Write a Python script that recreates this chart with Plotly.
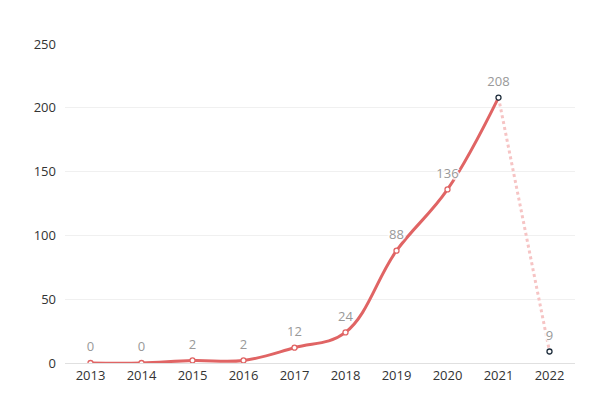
import plotly.graph_objects as go

years = ["2013", "2014", "2015", "2016", "2017", "2018", "2019", "2020", "2021", "2022"]
values = [0, 0, 2, 2, 12, 24, 88, 136, 208, 9]
y_ticks = [0, 50, 100, 150, 200, 250]

red = "#e06464"
pink = "#f6c4c4"
dark = "#1c2b3a"

solid_x, solid_y = years[:9], values[:9]
dot_x, dot_y = years[8:], values[8:]

marker_lines = [red] * 8 + [dark] * 2

halo = ", ".join(f"{dx}px {dy}px 1px white" for dx, dy in
                 [(1, 0), (-1, 0), (0, 1), (0, -1), (2, 0), (-2, 0), (0, 2), (0, -2)])

fig = go.Figure()
fig.add_trace(go.Scatter(
    x=dot_x, y=dot_y, mode="lines",
    line=dict(color=pink, width=3, dash="dot"),
    hoverinfo="skip", showlegend=False,
))
fig.add_trace(go.Scatter(
    x=solid_x, y=solid_y, mode="lines",
    line=dict(color=red, width=3, shape="spline", smoothing=1.1),
    hoverinfo="skip", showlegend=False,
))
fig.add_trace(go.Scatter(
    x=years, y=values, mode="markers",
    marker=dict(size=5, color="white", line=dict(color=marker_lines, width=1.3)),
    hoverinfo="skip", showlegend=False,
))
fig.add_trace(go.Scatter(
    x=years, y=values, mode="markers+text",
    marker=dict(size=12, color="rgba(0,0,0,0)"),
    text=[str(v) for v in values], textposition="top center",
    textfont=dict(color="#999999", size=13, family="Open Sans", shadow=halo),
    showlegend=False,
))

fig.update_layout(
    width=600, height=415,
    margin=dict(l=57, r=33, t=36, b=60),
    paper_bgcolor="white", plot_bgcolor="white",
    font=dict(family="Open Sans", size=13, color="#333333"),
    xaxis=dict(
        type="category", categoryorder="array", categoryarray=years,
        showgrid=False, showline=True, linecolor="#e0e0e0",
        linewidth=1, ticks="", tickfont=dict(color="#333333", size=13),
        range=[-0.5, 9.5], fixedrange=True, automargin=False,
    ),
    yaxis=dict(
        range=[0, 250], tickvals=y_ticks, showgrid=True, gridcolor="#f0f0f0",
        zeroline=False, showline=False, ticks="", ticklabelstandoff=8,
        tickfont=dict(color="#333333", size=13), fixedrange=True, automargin=False,
    ),
)

fig.write_html("out.html")
